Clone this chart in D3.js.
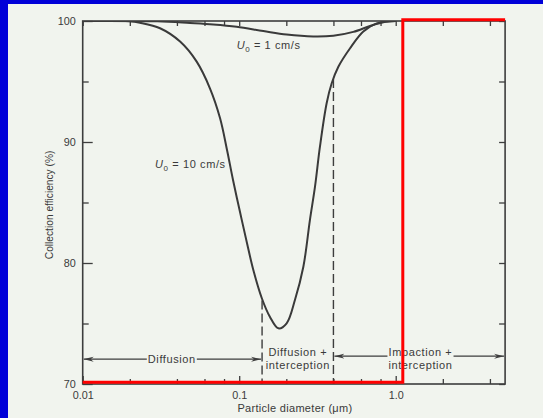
<!DOCTYPE html>
<html>
<head>
<meta charset="utf-8">
<script src="https://d3js.org/d3.v7.min.js"></script>
<style>
  html, body { margin: 0; padding: 0; background: #0000d8; }
  svg { display: block; }
  text { font-family: "Liberation Sans", Arial, sans-serif; fill: #3a3a3a; }
</style>
</head>
<body>
<svg id="chart" width="543" height="418"></svg>
<script>
// ---- data ----
const diam10 = [0.01, 0.02, 0.0232, 0.0312, 0.0419, 0.0535, 0.065, 0.0754, 0.0836, 0.0913, 0.1012, 0.1121, 0.1231, 0.1393, 0.157, 0.178, 0.201, 0.227, 0.257, 0.283, 0.305, 0.328, 0.362, 0.39, 0.43, 0.511, 0.621, 0.756, 1.0];
const eff10  = [100, 99.97, 99.85, 99.4, 98.3, 96.64, 94.44, 91.98, 89.34, 86.86, 84.21, 81.65, 79.42, 77.11, 75.56, 74.6, 75.02, 76.94, 79.69, 83.55, 86.31, 89.61, 93.2, 94.85, 96.22, 97.75, 99.13, 99.8, 100];
const diam1  = [0.01, 0.03, 0.0485, 0.0683, 0.0964, 0.1426, 0.201, 0.297, 0.399, 0.536, 0.685, 0.833, 1.0];
const eff1   = [100, 99.97, 99.83, 99.71, 99.52, 99.17, 98.88, 98.72, 98.78, 99.1, 99.59, 99.9, 100];
const curveLabels = ["10 cm/s", "1 cm/s"];
const xMajorTicks = [0.01, 0.1, 1];
const xTickLabels = ["0.01", "0.1", "1.0"];
const xMinorTicks = [0.02, 0.04, 0.06, 0.08, 0.2, 0.4, 0.6, 0.8, 2, 4];
const yMajorTicks = [70, 80, 90, 100];
const yMinorTicks = [75, 85, 95];
const regionBounds = [0.14, 0.40];
const regionBoundTop = [76.9, 95.2];
const regionNames = [["Diffusion"], ["Diffusion +", "interception"], ["Impaction +", "interception"]];
const regionLabelAt = [0.0371, 0.237, 1.44];
const redBox = [[0.01, 70.15], [1.11, 70.15], [1.11, 100.1], [5, 100.1]];
const xTitle = "Particle diameter (\u03bcm)";
const yTitle = "Collection efficiency (%)";

// ---- layout ----
const svg = d3.select("#chart");
svg.append("rect").attr("x", 8).attr("y", 4).attr("width", 535).attr("height", 414).attr("fill", "#f1f4ee");

const x = d3.scaleLog().domain([0.01, 5]).range([82.7, 505.1]);
const y = d3.scaleLinear().domain([70, 100]).range([384, 21]);
const ink = "#3d3d3d";

// axes (ticks inward)
function styleAxis(g) {
  g.select(".domain").remove();
  g.selectAll(".tick line").attr("stroke", ink).attr("stroke-width", 1.3);
  g.selectAll(".tick text").attr("font-size", 10.8).attr("fill", "#3a3a3a");
}
svg.append("g").attr("transform", `translate(0,${y(70)})`)
  .call(d3.axisBottom(x).tickValues(xMajorTicks).tickSizeInner(-8).tickSizeOuter(0).tickPadding(7)
    .tickFormat((d, i) => xTickLabels[i])).call(styleAxis);
svg.append("g").attr("transform", `translate(0,${y(70)})`)
  .call(d3.axisBottom(x).tickValues(xMinorTicks).tickSizeInner(-5).tickSizeOuter(0).tickFormat("")).call(styleAxis);
svg.append("g").attr("transform", `translate(0,${y(100)})`)
  .call(d3.axisTop(x).tickValues(xMajorTicks.concat(xMinorTicks)).tickSizeInner(-5).tickSizeOuter(0).tickFormat("")).call(styleAxis);
svg.append("g").attr("transform", `translate(${x(0.01)},0)`)
  .call(d3.axisLeft(y).tickValues(yMajorTicks).tickSizeInner(-10).tickSizeOuter(0).tickPadding(7)).call(styleAxis);
svg.append("g").attr("transform", `translate(${x(0.01)},0)`)
  .call(d3.axisLeft(y).tickValues(yMinorTicks).tickSizeInner(-6).tickSizeOuter(0).tickFormat("")).call(styleAxis);
svg.append("g").attr("transform", `translate(${x(5)},0)`)
  .call(d3.axisRight(y).tickValues(yMajorTicks.concat(yMinorTicks)).tickSizeInner(-6).tickSizeOuter(0).tickFormat("")).call(styleAxis);

// curves (clipped to the plot frame)
defsClip = svg.append("defs");
defsClip.append("clipPath").attr("id", "plotclip").append("rect")
  .attr("x", x(0.01)).attr("y", y(100)).attr("width", x(5) - x(0.01)).attr("height", y(70) - y(100));
const line = d3.line().x(d => x(d[0])).y(d => y(d[1])).curve(d3.curveCatmullRom.alpha(0.5));
[[diam10, eff10], [diam1, eff1]].forEach(([xs, ys]) => {
  svg.append("path").datum(xs.map((d, i) => [d, ys[i]])).attr("d", line).attr("clip-path", "url(#plotclip)")
    .attr("fill", "none").attr("stroke", "#3a3a3a").attr("stroke-width", 2);
});

// frame
svg.append("rect").attr("x", x(0.01)).attr("y", y(100)).attr("width", x(5) - x(0.01)).attr("height", y(70) - y(100))
  .attr("fill", "none").attr("stroke", ink).attr("stroke-width", 1.6);

// curve labels
function uLabel(xv, yv, rest) {
  const t = svg.append("text").attr("x", x(xv)).attr("y", y(yv)).attr("font-size", 11).attr("letter-spacing", 0.6);
  t.append("tspan").attr("font-style", "italic").text("U");
  t.append("tspan").attr("font-size", 8).attr("dy", 3).text("0");
  t.append("tspan").attr("dy", -3).text(" = " + rest);
}
uLabel(0.029, 87.85, curveLabels[0]);
uLabel(0.0963, 97.69, curveLabels[1]);

// region boundaries (dashed)
regionBounds.forEach((b, i) => {
  svg.append("line").attr("x1", x(b)).attr("x2", x(b)).attr("y1", y(regionBoundTop[i])).attr("y2", y(70))
    .attr("stroke", ink).attr("stroke-width", 1.4).attr("stroke-dasharray", "9,4");
});

// arrow markers
const defs = svg.append("defs");
defs.append("marker").attr("id", "arr").attr("viewBox", "0 0 10 6").attr("refX", 10).attr("refY", 3)
  .attr("markerWidth", 10).attr("markerHeight", 6).attr("markerUnits", "userSpaceOnUse").attr("orient", "auto-start-reverse")
  .append("path").attr("d", "M0,0.5 L10,3 L0,5.5 L3,3 Z").attr("fill", ink);

// region labels
const arrowY = [72.05, 0, 72.3];
const segs = [];
regionNames.forEach((lines, i) => {
  const cx = x(regionLabelAt[i]);
  const t = svg.append("text").attr("text-anchor", "middle").attr("font-size", 11).attr("letter-spacing", 0.6);
  if (lines.length === 1) {
    t.attr("x", cx).attr("y", y(arrowY[i]) + 3.8).text(lines[0]);
  } else {
    lines.forEach((s, k) => t.append("tspan").attr("x", cx).attr("y", y(72.3) + k * 12.4).text(s));
  }
  const w = t.node().getBBox();
  if (i === 0) {
    segs.push([x(0.01) + 1, w.x - 1, y(arrowY[0]), "start"]);
    segs.push([w.x + w.width + 1, x(regionBounds[0]) - 1, y(arrowY[0]), "end"]);
  } else if (i === 2) {
    segs.push([x(regionBounds[1]) + 1, w.x - 1, y(arrowY[2]), "start"]);
    segs.push([w.x + w.width + 1, x(5) - 1, y(arrowY[2]), "end"]);
  }
});
segs.forEach(([a, b, yy, m]) => {
  const l = svg.append("line").attr("x1", a).attr("x2", b).attr("y1", yy).attr("y2", yy)
    .attr("stroke", ink).attr("stroke-width", 1.2);
  if (m === "start") l.attr("marker-start", "url(#arr)"); else l.attr("marker-end", "url(#arr)");
});

// axis titles
svg.append("text").attr("x", (x(0.01) + x(5)) / 2 + 1).attr("y", 412).attr("text-anchor", "middle")
  .attr("font-size", 11).attr("letter-spacing", 0.3).text(xTitle);
svg.append("text").attr("transform", `translate(53,${y(84.8)}) rotate(-90)`).attr("text-anchor", "middle")
  .attr("font-size", 10.2).text(yTitle);

// red overlay annotation
svg.append("path").datum(redBox).attr("d", d3.line().x(d => x(d[0])).y(d => y(d[1])))
  .attr("fill", "none").attr("stroke", "#ff0000").attr("stroke-width", 3);
</script>
</body>
</html>
